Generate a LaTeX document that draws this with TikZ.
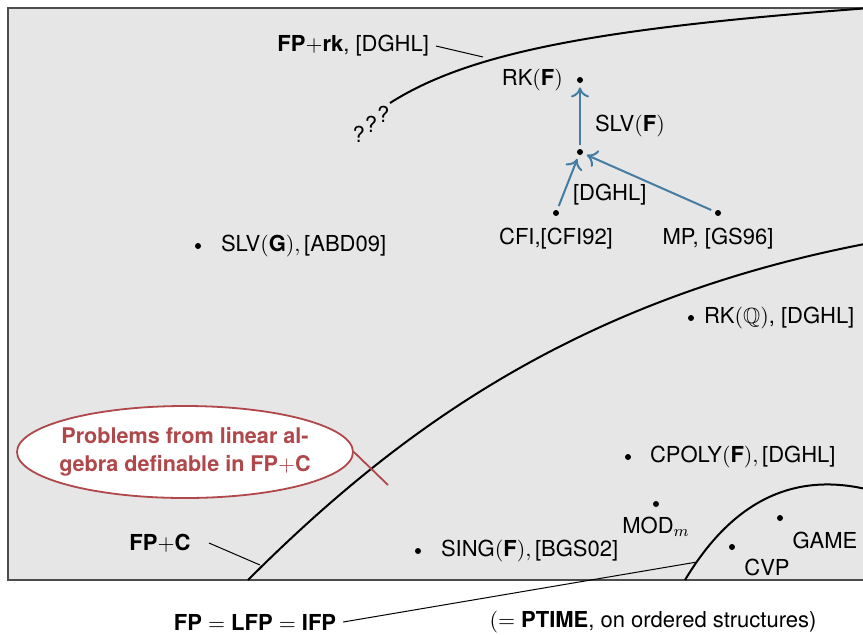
\documentclass[tikz,border=0pt]{standalone}
\usepackage{fontspec}
\setmainfont{TeX Gyre Heros}
\usepackage{amsmath,amssymb}
\usepackage{tikz}
\usetikzlibrary{positioning,arrows.meta}
\usetikzlibrary{shapes.geometric}
\definecolor{areagray}{HTML}{E6E6E6}
\definecolor{redblue}{HTML}{447CA3}
\definecolor{notered}{HTML}{AF474B}

\tikzset{
  prob/.style={circle,fill=black,inner sep=0pt,minimum size=3pt},
  border/.style={line width=1pt},
  tick/.style={line width=0.5pt},
  reduct/.style={redblue,line width=1pt,-{To[length=5pt,width=9pt]},shorten >=2pt,shorten <=2pt},
  note/.style={ellipse,draw=notered,line width=0.9pt,fill=white,text=notered,
    font=\fontsize{10.8}{14}\selectfont\bfseries,align=center,
    minimum width=168pt,minimum height=46pt,inner xsep=-10pt,inner ysep=-2pt}
}

\begin{document}
\begin{tikzpicture}[x=0.5pt,y=-0.5pt,font=\fontsize{11}{14}\selectfont]
\useasboundingbox (0,0) rectangle (863,634);
\filldraw[fill=areagray,draw=black!70,line width=0.6pt] (8,8) rectangle (880,580);

% class borders
\draw[border] (390,103) .. controls (470,52) and (600,28) .. (870,8);
\draw[border] (248,580) .. controls (400,428) and (580,298) .. (870,243);
\draw[border] (685,580) .. controls (730,505) and (790,470) .. (870,490);

\node[inner sep=0pt] (qqq) at (371,124)
    {?\raisebox{5pt}{?}\raisebox{10pt}{?}};

% FP+rk
\node[anchor=east] (rklab) at (436,46) {$\textbf{FP}{+}\textbf{rk}$, [DGHL]};
\coordinate (rkcut) at (483,57);
\draw[tick] (rklab.east) -- (rkcut);

\node[prob] (rkf) at (580,80) {};
\node[anchor=east] (rkflab) at (570,80) {RK$(\textbf{F})$};
\node[prob] (slvf) at (580,152) {};
\node[anchor=west] (slvflab) at (588,126) {SLV$(\textbf{F})$};
\node[prob] (cfi) at (556,213) {};
\node (cfilab) at (556,239) {CFI,[CFI92]};
\node[prob] (mp) at (718,213) {};
\node (mplab) at (718,239) {MP, [GS96]};
\node[anchor=west] (dghl) at (566,195) {[DGHL]};
\draw[reduct] (slvf) -- (rkf);
\draw[reduct] (cfi) -- (slvf);
\draw[reduct] (mp) -- (slvf);

\node[prob] (slvg) at (198,246) {};
\node[anchor=west] (slvglab) at (214,246) {SLV$(\textbf{G}),\,$[ABD09]};

% FP+C
\node[prob] (rkq) at (691,318) {};
\node[anchor=west] (rkqlab) at (697,318) {RK$(\mathbb{Q})$, [DGHL]};
\node[prob] (cpoly) at (628,457) {};
\node[anchor=west] (cpolylab) at (643,457) {CPOLY$(\textbf{F}),\,$[DGHL]};
\node[prob] (modm) at (656,504) {};
\node (modlab) at (656,527) {MOD$_m$};
\node[prob] (sing) at (418,551) {};
\node[anchor=west] (singlab) at (434,551) {SING$(\textbf{F}),\,$[BGS02]};

\node[note] (alg) at (185,452) {Problems from linear al-\\gebra definable in FP$+$C};
\coordinate (algtip) at (388,485);
\draw[notered,line width=0.9pt] (alg.east) -- (algtip);

\node (fpclab) at (160,543) {$\textbf{FP}{+}\textbf{C}$};
\coordinate (fpccut) at (260,565);
\draw[tick] (209,543) -- (fpccut);

% FP
\node[prob] (cvp) at (732,547) {};
\node (cvplab) at (767,567) {CVP};
\node[prob] (game) at (780,518) {};
\node (gamelab) at (825,540) {GAME};

\node (fplab) at (255,622) {$\textbf{FP}=\textbf{LFP}=\textbf{IFP}$};
\coordinate (fpcut) at (697,562);
\draw[tick] (fplab.east) -- (fpcut);
\node (ptime) at (653,622) {$(=\textbf{PTIME}$, on ordered structures)};
\end{tikzpicture}
\end{document}
